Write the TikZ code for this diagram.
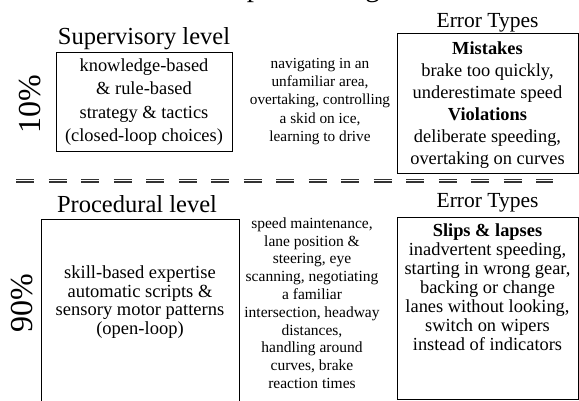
\documentclass[tikz,border=0pt]{standalone}
\usepackage{fontspec}
\setmainfont{Liberation Serif}
\begin{document}
\begin{tikzpicture}[x=1pt,y=-1pt]
\tikzset{
  panel/.style={draw=black, line width=0.9pt, inner sep=0pt},
  lvl/.style={font=\fontsize{24.5}{28}\selectfont, anchor=base, inner sep=0pt},
  errhead/.style={font=\fontsize{21.5}{24}\selectfont, anchor=base, inner sep=0pt},
  share/.style={font=\fontsize{32}{34}\selectfont, rotate=90, inner sep=0pt},
  boxtext/.style={align=center, inner sep=0pt},
  tasktext/.style={align=center, inner sep=0pt},
  splitline/.style={draw=black!80, line width=1.2pt, double=white,
    double distance=1.6pt, dash pattern=on 18pt off 14.5pt}
}
\useasboundingbox (0,0) rectangle (579,401);
\begin{scope}
\clip (0,0) rectangle (579,401);

% column heading, mostly above the frame
\node[font=\fontsize{29}{32}\selectfont, anchor=base, inner sep=0pt] (tasks) at (316,-3) {Example Driving Tasks};

% ---------- supervisory level ----------
\node[lvl] (suphead) at (144,45) {Supervisory level};
\node[panel, minimum width=176pt, minimum height=99pt] (supbox) at (144,101.5) {};
\node[boxtext, font=\fontsize{18.4}{23.5}\selectfont] (suptext) at (144,102) {knowledge-based\\ \& rule-based\\ strategy \& tactics\\ (closed-loop choices)};
\node[share] (ten) at (30,104) {10\%};
\node[tasktext, font=\fontsize{15.3}{18.3}\selectfont] (suptasks) at (320,101.5) {navigating in an\\ unfamiliar area,\\ overtaking, controlling\\ a skid on ice,\\ learning to drive};
\node[errhead] (errhead1) at (487.5,28) {Error Types};
\node[panel, minimum width=181pt, minimum height=140pt] (errbox1) at (487.5,103) {};
\node[boxtext, font=\fontsize{18.4}{22}\selectfont] (errtext1) at (487.5,105) {\textbf{Mistakes}\\ brake too quickly,\\ underestimate speed\\ \textbf{Violations}\\ deliberate speeding,\\ overtaking on curves};

% ---------- separator ----------
\coordinate (sepL) at (16,180.7);
\coordinate (sepR) at (553,180.7);
\draw[splitline] (sepL) -- (sepR);

% ---------- procedural level ----------
\node[lvl] (prochead) at (137,213) {Procedural level};
\node[panel, minimum width=198pt, minimum height=201pt] (procbox) at (140,319.5) {};
\node[boxtext, font=\fontsize{18.5}{18.4}\selectfont] (proctext) at (140,302) {skill-based expertise\\ automatic scripts \&\\ sensory motor patterns\\ (open-loop)};
\node[share] (ninety) at (22,303) {90\%};
\node[tasktext, font=\fontsize{15.5}{17.8}\selectfont] (proctasks) at (312,303) {speed maintenance,\\ lane position \&\\ steering, eye\\ scanning, negotiating\\ a familiar\\ intersection, headway\\ distances,\\ handling around\\ curves, brake\\ reaction times};
\node[errhead] (errhead2) at (487.5,208) {Error Types};
\node[panel, minimum width=181pt, minimum height=182pt] (errbox2) at (487.5,308) {};
\node[boxtext, font=\fontsize{18.4}{19}\selectfont] (errtext2) at (487.5,287) {\textbf{Slips \& lapses}\\ inadvertent speeding,\\ starting in wrong gear,\\ backing or change\\ lanes without looking,\\ switch on wipers\\ instead of indicators};
\end{scope}
\end{tikzpicture}
\end{document}
